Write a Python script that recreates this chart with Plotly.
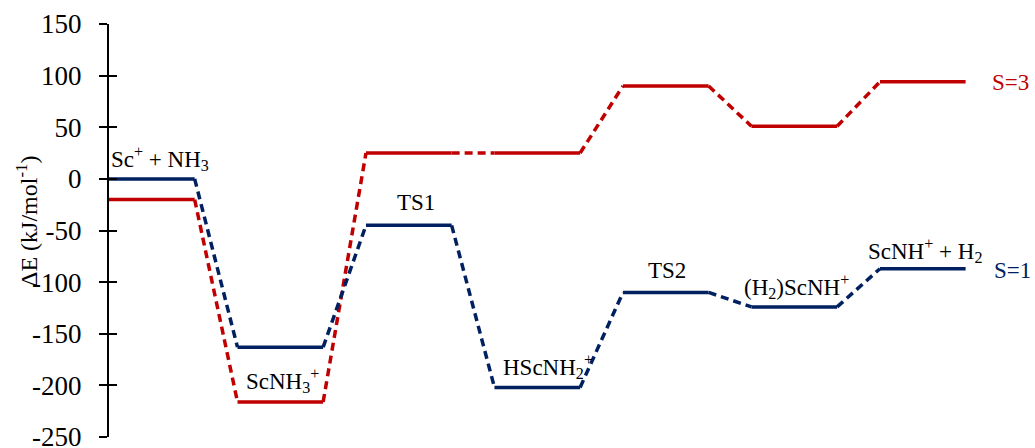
import plotly.graph_objects as go

# ---- data ----
states = ["Sc<sup>+</sup> + NH<sub>3</sub>", "ScNH<sub>3</sub><sup>+</sup>", "TS1",
          "HScNH<sub>2</sub><sup>+</sup>", "TS2", "(H<sub>2</sub>)ScNH<sup>+</sup>",
          "ScNH<sup>+</sup> + H<sub>2</sub>"]
singlet_S1 = [0, -163, -45, -202, -110, -124, -87]
triplet_S3 = [-20, -216, 25, 25, 90, 51, 94]
y_ticks = [150, 100, 50, 0, -50, -100, -150, -200, -250]
y_tick_text = ["150", "100", "50", "0", "-50", "-100", "-150", "-200", "-250"]

BLUE = "#002060"
RED = "#C00000"
FONT = "Liberation Serif"

LEVEL_W = 2.0
PERIOD = 3.0


def level_xy(vals):
    xs, ys = [], []
    for i, v in enumerate(vals):
        xs += [i * PERIOD, i * PERIOD + LEVEL_W, None]
        ys += [v, v, None]
    return xs, ys


def conn_xy(vals):
    xs, ys = [], []
    for i in range(len(vals) - 1):
        xs += [i * PERIOD + LEVEL_W, (i + 1) * PERIOD, None]
        ys += [vals[i], vals[i + 1], None]
    return xs, ys


fig = go.Figure()
for vals, col in [(triplet_S3, RED), (singlet_S1, BLUE)]:
    cx, cy = conn_xy(vals)
    fig.add_trace(go.Scatter(x=cx, y=cy, mode="lines",
                             line=dict(color=col, width=3.5, dash="8px,5px"),
                             hoverinfo="skip", showlegend=False, cliponaxis=False))
    lx, ly = level_xy(vals)
    fig.add_trace(go.Scatter(x=lx, y=ly, mode="lines",
                             line=dict(color=col, width=3.5),
                             hoverinfo="skip", showlegend=False, cliponaxis=False))

# dummy trace for inner tick axis
fig.add_trace(go.Scatter(x=[None], y=[None], yaxis="y2", showlegend=False, hoverinfo="skip"))

# state labels (positions relative to data coordinates)
label_pos = [(1.19, 20), (4.06, -195), (7.17, -23), (10.25, -182),
             (13.03, -89), (16.06, -104.5), (19.05, -69)]
for txt, (x, y) in zip(states, label_pos):
    fig.add_annotation(x=x, y=y, text=txt, showarrow=False,
                       font=dict(family=FONT, size=23, color="black"),
                       xanchor="center", yanchor="middle")

fig.add_annotation(x=21.04, y=93, text="S=3", showarrow=False,
                   font=dict(family=FONT, size=23, color=RED),
                   xanchor="center", yanchor="middle")
fig.add_annotation(x=21.1, y=-89, text="S=1", showarrow=False,
                   font=dict(family=FONT, size=23, color=BLUE),
                   xanchor="center", yanchor="middle")

# y-axis title
fig.add_annotation(xref="paper", yref="paper", x=(27 - 109) / (1030 - 109),
                   y=(437 - 222) / 413, text="ΔE (kJ/mol<sup>-1</sup>)",
                   textangle=-90, showarrow=False,
                   font=dict(family=FONT, size=24, color="black"),
                   xanchor="center", yanchor="middle")

fig.update_layout(
    width=1035, height=448,
    margin=dict(l=109, r=5, t=24, b=11, autoexpand=False),
    paper_bgcolor="white", plot_bgcolor="white",
    xaxis=dict(range=[0, (1030 - 109) / 42.83], visible=False, fixedrange=True,
               automargin=False),
    yaxis=dict(range=[-250, 150], tickvals=y_ticks, ticktext=y_tick_text,
               ticks="outside", ticklen=8, automargin=False, ticklabeloverflow="allow",
               tickwidth=2, tickcolor="black", showline=True, linecolor="black",
               linewidth=2, showgrid=False, zeroline=False, ticklabelstandoff=12,
               tickfont=dict(family=FONT, size=27, color="black")),
    yaxis2=dict(range=[-250, 150], tickvals=y_ticks, overlaying="y", side="left",
                ticks="inside", ticklen=8, tickwidth=2, tickcolor="black",
                automargin=False,
                showticklabels=False, showgrid=False, zeroline=False, showline=False),
    showlegend=False,
)

fig.write_html("out.html", config={"displayModeBar": False},
               post_script="document.body.style.margin='0';document.body.style.overflow='hidden';")
